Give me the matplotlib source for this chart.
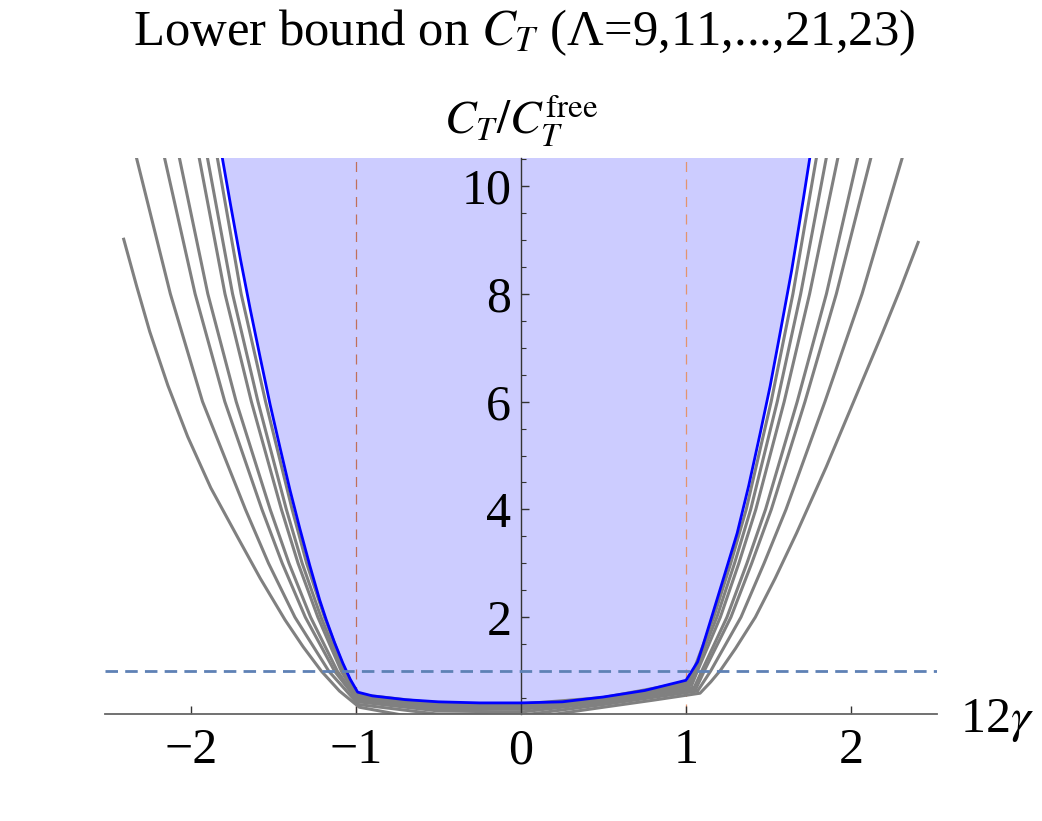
import matplotlib
matplotlib.use("Agg")
import matplotlib.pyplot as plt

plt.rcParams['font.family'] = ['Liberation Serif', 'DejaVu Serif']
plt.rcParams['mathtext.fontset'] = 'stix'

# ---------------- data ----------------
lambdas = [9, 11, 13, 15, 17, 19, 21, 23]

x_L9 = [-2.41, -2.33, -2.25, -2.14, -2.02, -1.88, -1.72, -1.58, -1.43, -1.32, -1.21, -1.10, -0.98,
        -0.73, -0.50, -0.25, 0.00, 0.18, 0.50, 0.80,
        1.085, 1.15, 1.21, 1.30, 1.42, 1.54, 1.67, 1.85, 2.02, 2.19, 2.30, 2.41]
y_L9 = [9.04, 8.15, 7.30, 6.30, 5.35, 4.40, 3.50, 2.72, 1.95, 1.45, 1.00, 0.63, 0.33,
        0.19, 0.12, 0.08, 0.10, 0.19, 0.33, 0.46,
        0.59, 0.80, 1.02, 1.42, 2.00, 2.72, 3.56, 4.79, 6.03, 7.27, 8.10, 8.98]

x_L11 = [-2.40, -2.33, -2.125, -1.93, -1.67, -1.53, -1.37, -1.165, -0.985, -0.5, 0.0, 0.5,
         1.07, 1.149, 1.333, 1.473, 1.606, 1.842, 2.067, 2.31, 2.38]
y_L11 = [11.7, 10.52, 8.0, 6.0, 4.0, 3.0, 2.0, 1.0, 0.38, 0.20, 0.18, 0.38, 0.63, 1.0, 2.0, 3.0, 4.0, 6.0, 8.0, 10.52, 11.7]

x_L13 = [-2.23, -2.16, -1.975, -1.795, -1.57, -1.447, -1.307, -1.13, -0.985, -0.5, 0.0, 0.5,
         1.06, 1.11, 1.272, 1.398, 1.517, 1.721, 1.911, 2.12, 2.19]
y_L13 = [11.7, 10.52, 8.0, 6.0, 4.0, 3.0, 2.0, 1.0, 0.43, 0.26, 0.24, 0.42, 0.67, 1.0, 2.0, 3.0, 4.0, 6.0, 8.0, 10.52, 11.7]

x_L15 = [-2.14, -2.07, -1.898, -1.726, -1.52, -1.406, -1.275, -1.113, -0.99, -0.5, 0.0, 0.5,
         1.05, 1.095, 1.248, 1.369, 1.482, 1.674, 1.851, 2.04, 2.11]
y_L15 = [11.7, 10.52, 8.0, 6.0, 4.0, 3.0, 2.0, 1.0, 0.47, 0.30, 0.29, 0.45, 0.70, 1.0, 2.0, 3.0, 4.0, 6.0, 8.0, 10.52, 11.7]

x_L17 = [-2.02, -1.95, -1.794, -1.634, -1.452, -1.351, -1.231, -1.089, -0.99, -0.5, 0.0, 0.5,
         1.035, 1.069, 1.208, 1.32, 1.423, 1.595, 1.749, 1.92, 1.99]
y_L17 = [11.7, 10.52, 8.0, 6.0, 4.0, 3.0, 2.0, 1.0, 0.51, 0.34, 0.33, 0.47, 0.74, 1.0, 2.0, 3.0, 4.0, 6.0, 8.0, 10.52, 11.7]

x_L19 = [-1.97, -1.90, -1.748, -1.594, -1.422, -1.326, -1.212, -1.078, -0.99, -0.5, 0.0, 0.5,
         1.025, 1.055, 1.187, 1.294, 1.392, 1.553, 1.695, 1.85, 1.92]
y_L19 = [11.7, 10.52, 8.0, 6.0, 4.0, 3.0, 2.0, 1.0, 0.54, 0.37, 0.36, 0.49, 0.77, 1.0, 2.0, 3.0, 4.0, 6.0, 8.0, 10.52, 11.7]

x_L21 = [-1.91, -1.84, -1.696, -1.548, -1.387, -1.299, -1.191, -1.066, -0.99, -0.5, 0.0, 0.5,
         1.015, 1.044, 1.168, 1.271, 1.365, 1.516, 1.648, 1.79, 1.86]
y_L21 = [11.7, 10.52, 8.0, 6.0, 4.0, 3.0, 2.0, 1.0, 0.57, 0.40, 0.39, 0.51, 0.80, 1.0, 2.0, 3.0, 4.0, 6.0, 8.0, 10.52, 11.7]

x_L23 = [-1.88, -1.81, -1.76, -1.70, -1.64, -1.58, -1.52, -1.46, -1.40, -1.34, -1.28, -1.22, -1.18, -1.13, -1.08, -1.035, -0.99,
         -0.90, -0.70, -0.50, -0.25, 0.00, 0.25, 0.50, 0.75,
         1.00, 1.07, 1.10, 1.145, 1.23, 1.31, 1.38, 1.45, 1.51, 1.57, 1.64, 1.71, 1.75, 1.82]
y_L23 = [11.73, 10.52, 9.65, 8.64, 7.70, 6.81, 5.94, 5.14, 4.36, 3.64, 2.96, 2.32, 1.95, 1.53, 1.15, 0.85, 0.61,
         0.54, 0.47, 0.43, 0.41, 0.41, 0.43, 0.52, 0.64,
         0.83, 1.17, 1.45, 1.90, 2.75, 3.56, 4.44, 5.42, 6.29, 7.27, 8.43, 9.74, 10.52, 11.9]

gray_x = [x_L9, x_L11, x_L13, x_L15, x_L17, x_L19, x_L21]
gray_y = [y_L9, y_L11, y_L13, y_L15, y_L17, y_L19, y_L21]

free_level = 1.0
gamma_marks = [-1.0, 1.0]

x_ticks = [-2, -1, 0, 1, 2]
y_ticks = [2, 4, 6, 8, 10]
y_minor = [0.5, 1.0, 1.5, 2.5, 3.0, 3.5, 4.5, 5.0, 5.5, 6.5, 7.0, 7.5, 8.5, 9.0, 9.5, 10.5]

title = "Lower bound on $C_T$ (Λ=9,11,...,21,23)"
ylabel = r"$C_T/C_T^{\rm free}$"
xlabel = r"12$\gamma$"

# ---------------- figure ----------------
W, H = 1042, 821
fig = plt.figure(figsize=(W / 100, H / 100), dpi=100)
ax = fig.add_axes([105 / W, (H - 714) / H, (937 - 105) / W, (714 - 158) / H])
ax.set_xlim(-2.521, 2.521)
ax.set_ylim(0.204, 10.52)

# filled allowed region above the strongest bound
ax.fill_between(x_L23, y_L23, 12, color='#CCCCFF', lw=0, zorder=0)

# vertical dashed marks
ax.axvline(gamma_marks[0], color='#C0705A', lw=0.9, dashes=(8, 6), zorder=1)
ax.axvline(gamma_marks[1], color='#E3946E', lw=0.9, dashes=(8, 6), zorder=1)

for xs, ys in zip(gray_x, gray_y):
    ax.plot(xs, ys, color='#808080', lw=2.2, solid_joinstyle='round', solid_capstyle='butt', zorder=2)
ax.plot(x_L23, y_L23, color='#0000FF', lw=2.0, solid_joinstyle='round', zorder=3)

ax.axhline(free_level, color='#5E81B5', lw=2.0, dashes=(4.5, 2.6), zorder=4)

# axes styling (Mathematica-like axes through origin)
for s in ['top', 'right']:
    ax.spines[s].set_visible(False)
ax.spines['left'].set_position(('data', 0))
ax.spines['left'].set_color('#333333')
ax.spines['bottom'].set_color('#666666')
ax.spines['left'].set_linewidth(1.0)
ax.spines['bottom'].set_linewidth(1.3)

ax.set_xticks(x_ticks)
ax.set_xticklabels([("−%d" % abs(v)) if v < 0 else str(v) for v in x_ticks])
ax.set_yticks(y_ticks)
ax.set_yticks(y_minor, minor=True)
ax.set_yticklabels([str(v) for v in y_ticks])
ax.tick_params(axis='x', direction='in', length=6, width=1, color='#333333',
               labelsize=36, pad=10)
ax.tick_params(axis='y', which='major', direction='in', length=6, width=1, color='#333333',
               labelsize=36, pad=7)
ax.tick_params(axis='y', which='minor', direction='in', length=3.5, width=0.8, color='#333333')
ax.patch.set_alpha(0)

fig.text(524 / W, (H - 45) / H, title, ha='center', va='baseline', fontsize=36.5)
fig.text(521 / W, (H - 134) / H, ylabel, ha='center', va='baseline', fontsize=34)
fig.text(960 / W, (H - 732) / H, xlabel, ha='left', va='baseline', fontsize=36)

fig.savefig('out.png', dpi=100)
